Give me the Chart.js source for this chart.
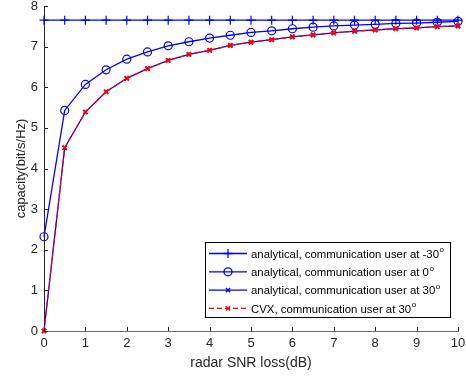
<!DOCTYPE html>
<html>
<head>
<meta charset="utf-8">
<script src="https://cdn.jsdelivr.net/npm/chart.js@4.4.1/dist/chart.umd.min.js"></script>
<style>
  html, body { margin: 0; padding: 0; background: #fff; }
  #wrap { width: 466px; height: 380px; }
</style>
</head>
<body>
<div id="wrap"><canvas id="myChart"></canvas></div>
<script>
// radar SNR loss (dB)
const snrLoss = [0, 0.5, 1, 1.5, 2, 2.5, 3, 3.5, 4, 4.5, 5, 5.5, 6, 6.5, 7, 7.5, 8, 8.5, 9, 9.5, 10];

// capacity (bit/s/Hz)
const capMinus30 = [7.65, 7.65, 7.65, 7.65, 7.65, 7.65, 7.65, 7.65, 7.65, 7.65, 7.65,
                    7.65, 7.65, 7.65, 7.65, 7.65, 7.65, 7.65, 7.65, 7.65, 7.65];
const cap0 = [2.32, 5.43, 6.07, 6.43, 6.69, 6.87, 7.02, 7.12, 7.21, 7.28, 7.35,
              7.39, 7.44, 7.48, 7.51, 7.53, 7.55, 7.57, 7.58, 7.60, 7.62];
const cap30 = [0, 4.51, 5.39, 5.89, 6.22, 6.46, 6.66, 6.81, 6.91, 7.03, 7.11,
               7.17, 7.24, 7.29, 7.34, 7.38, 7.41, 7.44, 7.46, 7.49, 7.51];
const capCvx30 = [0, 4.51, 5.39, 5.89, 6.22, 6.46, 6.66, 6.81, 6.91, 7.03, 7.11,
                  7.17, 7.24, 7.29, 7.34, 7.38, 7.41, 7.44, 7.46, 7.49, 7.51];

const legendLabels = [
    'analytical, communication user at -30',
    'analytical, communication user at 0',
    'analytical, communication user at 30',
    'CVX, communication user at 30'
];
const xTitle = 'radar SNR loss(dB)';
const yTitle = 'capacity(bit/s/Hz)';

const toPts = (ys) => ys.map((y, i) => ({ x: snrLoss[i], y: y }));

const FONT = 'Liberation Sans, Arial, Helvetica, sans-serif';
const AXIS = '#262626';

// matlab style ticks that point into the plot
const innerTicks = {
    id: 'innerTicks',
    afterDraw(chart) {
        const ctx = chart.ctx;
        const xs = chart.scales.x, ys = chart.scales.y;
        const area = chart.chartArea;
        ctx.save();
        ctx.lineWidth = 1;
        ctx.strokeStyle = AXIS;
        ctx.beginPath();
        xs.ticks.forEach(t => {
            const px = Math.round(xs.getPixelForValue(t.value)) + 0.5;
            ctx.moveTo(px, area.bottom);
            ctx.lineTo(px, area.bottom - 4);
        });
        ys.ticks.forEach(t => {
            const py = Math.round(ys.getPixelForValue(t.value)) + 0.5;
            ctx.moveTo(area.left, py);
            ctx.lineTo(area.left + 4, py);
        });
        ctx.stroke();
        ctx.restore();
    }
};

// legend box in lower right of the plot
const boxLegend = {
    id: 'boxLegend',
    afterDraw(chart) {
        const ctx = chart.ctx;
        const bx = 205.5, by = 242.5, bw = 245, bh = 75;
        ctx.save();
        ctx.fillStyle = '#fff';
        ctx.fillRect(bx, by, bw, bh);
        ctx.strokeStyle = '#000';
        ctx.lineWidth = 1;
        ctx.strokeRect(bx, by, bw, bh);

        chart.data.datasets.forEach((ds, i) => {
            const y = 253.5 + i * 18.3;
            ctx.save();
            ctx.strokeStyle = ds.borderColor;
            ctx.lineWidth = ds.borderWidth;
            ctx.setLineDash(ds.borderDash || []);
            ctx.beginPath();
            ctx.moveTo(209, y);
            ctx.lineTo(247, y);
            ctx.stroke();
            ctx.setLineDash([]);
            ctx.strokeStyle = ds.pointBorderColor;
            ctx.fillStyle = 'rgba(0,0,0,0)';
            Chart.helpers.drawPoint(ctx, {
                pointStyle: ds.pointStyle,
                radius: ds.pointRadius,
                rotation: 0,
                borderWidth: ds.pointBorderWidth
            }, 228, y);
            ctx.restore();

            ctx.fillStyle = '#000';
            ctx.font = '11.4px ' + FONT;
            ctx.textBaseline = 'middle';
            ctx.textAlign = 'left';
            const txt = legendLabels[i];
            ctx.fillText(txt, 251, y + 1);
            const w = ctx.measureText(txt).width;
            ctx.font = '8px ' + FONT;
            ctx.fillText('o', 251 + w + 0.5, y - 3.5);
        });
        ctx.restore();
    }
};

const ctx = document.getElementById('myChart').getContext('2d');
const myChart = new Chart(ctx, {
    type: 'line',
    data: {
        datasets: [{
            label: legendLabels[0],
            data: toPts(capMinus30),
            borderColor: '#0000ff',
            borderWidth: 1.3,
            pointStyle: 'cross',
            pointRadius: 4.5,
            pointBorderColor: '#0000ff',
            pointBackgroundColor: 'rgba(0,0,0,0)',
            pointBorderWidth: 1.2,
            order: 1
        }, {
            label: legendLabels[1],
            data: toPts(cap0),
            borderColor: '#0000ff',
            borderWidth: 1.3,
            pointStyle: 'circle',
            pointRadius: 4,
            pointBorderColor: '#0000ff',
            pointBackgroundColor: 'rgba(0,0,0,0)',
            pointBorderWidth: 1.2,
            order: 1
        }, {
            label: legendLabels[2],
            data: toPts(cap30),
            borderColor: '#0000ff',
            borderWidth: 1.3,
            pointStyle: 'crossRot',
            pointRadius: 3,
            pointBorderColor: '#0000ff',
            pointBackgroundColor: 'rgba(0,0,0,0)',
            pointBorderWidth: 1.2,
            order: 1
        }, {
            label: legendLabels[3],
            data: toPts(capCvx30),
            borderColor: '#ff0000',
            borderWidth: 1.3,
            borderDash: [5, 3],
            pointStyle: 'crossRot',
            pointRadius: 3,
            pointBorderColor: '#ff0000',
            pointBackgroundColor: 'rgba(0,0,0,0)',
            pointBorderWidth: 2,
            order: 0
        }]
    },
    options: {
        responsive: true,
        maintainAspectRatio: false,
        animation: false,
        clip: false,
        layout: { padding: { top: 4, right: 8, left: 0, bottom: 0 } },
        plugins: {
            legend: { display: false },
            tooltip: { enabled: false }
        },
        elements: { line: { tension: 0 } },
        scales: {
            x: {
                type: 'linear',
                min: 0,
                max: 10,
                ticks: { stepSize: 1, color: AXIS, font: { family: FONT, size: 13 }, padding: 5, maxRotation: 0 },
                grid: { display: false, drawTicks: false },
                border: { display: true, color: '#6a6a6a', width: 1 },
                title: { display: true, text: xTitle, color: AXIS, font: { family: FONT, size: 14 }, padding: { top: 0, bottom: 8 } },
                afterFit(scale) {
                    scale.height = 49;
                    scale.paddingLeft = 0;
                    scale.paddingRight = 0;
                }
            },
            y: {
                min: 0,
                max: 8,
                ticks: { stepSize: 1, color: AXIS, font: { family: FONT, size: 13 }, padding: 6 },
                grid: { display: false, drawTicks: false },
                border: { display: true, color: AXIS, width: 1 },
                title: { display: true, text: yTitle, color: AXIS, font: { family: FONT, size: 13 }, padding: { top: 14, bottom: 0 } },
                afterFit(scale) {
                    scale.width = 44;
                    scale.paddingTop = 0;
                    scale.paddingBottom = 0;
                }
            }
        }
    },
    plugins: [innerTicks, boxLegend]
});
</script>
</body>
</html>
